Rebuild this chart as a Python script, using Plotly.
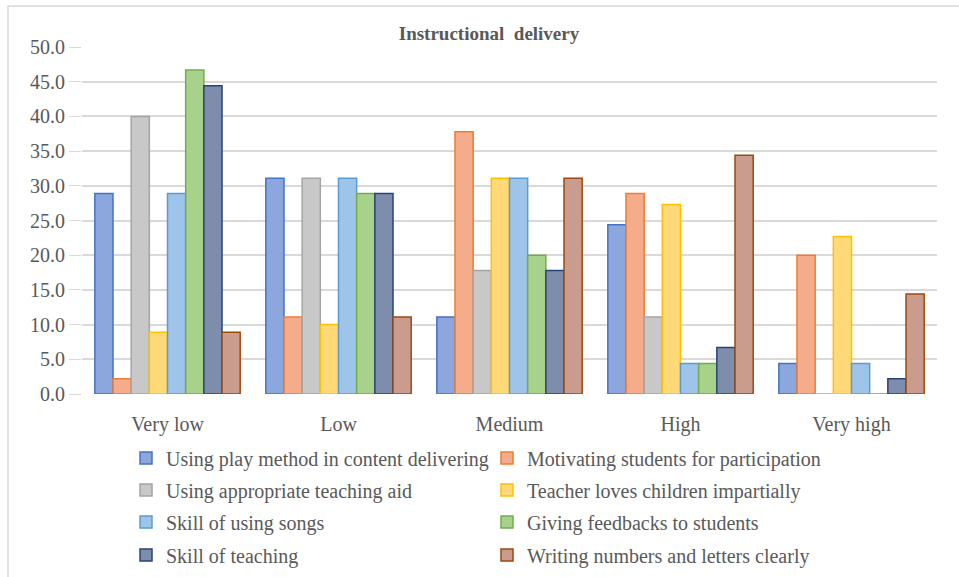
import plotly.graph_objects as go

categories = ["Very low", "Low", "Medium", "High", "Very high"]

series_names = [
    "Using play method in content delivering",
    "Motivating students for participation",
    "Using appropriate teaching aid",
    "Teacher loves children impartially",
    "Skill of using songs",
    "Giving feedbacks to students",
    "Skill of teaching",
    "Writing numbers and letters clearly",
]

play_method = [28.9, 31.1, 11.1, 24.4, 4.4]
motivating = [2.2, 11.1, 37.8, 28.9, 20.0]
teaching_aid = [40.0, 31.1, 17.8, 11.1, 0.0]
loves_children = [8.9, 10.0, 31.1, 27.3, 22.7]
using_songs = [28.9, 31.1, 31.1, 4.4, 4.4]
feedbacks = [46.7, 28.9, 20.0, 4.4, 0.0]
skill_teaching = [44.4, 28.9, 17.8, 6.7, 2.2]
writing = [8.9, 11.1, 31.1, 34.4, 14.4]

series_values = [play_method, motivating, teaching_aid, loves_children,
                 using_songs, feedbacks, skill_teaching, writing]

fill_colors = ["#8CA7DD", "#F5AC8A", "#C8C8C8", "#FFD978",
               "#9EC4EA", "#A8D18C", "#7F8DAD", "#C99C8D"]
edge_colors = ["#4472C4", "#ED7D31", "#A5A5A5", "#FFC000",
               "#5B9BD5", "#70AD47", "#264478", "#9E480E"]

FONT = "Liberation Serif"
GRAY = "#595959"

fig = go.Figure()
legend_ids = ["legend", "legend", "legend2", "legend2",
              "legend3", "legend3", "legend4", "legend4"]
for name, vals, fc, ec, lg in zip(series_names, series_values, fill_colors, edge_colors, legend_ids):
    fig.add_trace(go.Bar(
        x=categories, y=vals, name=name,
        marker=dict(color=fc, line=dict(color=ec, width=1.5)),
        legend=lg,
    ))

plot_top, plot_bottom, plot_left, plot_w = 47, 394, 82, 855
plot_h = plot_bottom - plot_top

def py(pix):
    return (plot_bottom - pix) / plot_h

def px(pix):
    return (pix - plot_left) / plot_w

legend_common = dict(orientation="h", xanchor="left", yanchor="middle",
                     x=px(126), entrywidth=316, itemwidth=30,
                     font=dict(family=FONT, size=20, color=GRAY),
                     bgcolor="rgba(0,0,0,0)")
row_ys = [458, 490, 522, 555]

fig.update_layout(
    width=959, height=577,
    margin=dict(l=plot_left, r=959 - plot_left - plot_w, t=plot_top,
                b=577 - plot_bottom, autoexpand=False),
    paper_bgcolor="white", plot_bgcolor="white",
    barmode="group", bargap=0.15, bargroupgap=0.0,
    title=dict(text="<b>Instructional  delivery</b>", x=px(489), xref="paper",
               xanchor="center", y=1 - 33 / 577, yanchor="middle",
               font=dict(family=FONT, size=19, color=GRAY)),
    legend=dict(**legend_common, y=py(row_ys[0])),
    legend2=dict(**legend_common, y=py(row_ys[1])),
    legend3=dict(**legend_common, y=py(row_ys[2])),
    legend4=dict(**legend_common, y=py(row_ys[3])),
    xaxis=dict(showgrid=False, showline=False, ticks="", ticklabelstandoff=16,
               tickfont=dict(family=FONT, size=20, color=GRAY)),
    yaxis=dict(range=[0, 50], dtick=5, tickformat=".1f", showgrid=True,
               gridcolor="#D9D9D9", gridwidth=1.5, zeroline=False, showline=False,
               ticks="outside", ticklen=12, tickcolor="#D9D9D9",
               tickfont=dict(family=FONT, size=20, color=GRAY)),
    shapes=[dict(type="rect", xref="paper", yref="paper",
                 x0=px(8), x1=px(975), y0=py(600), y1=py(6),
                 line=dict(color="#D9D9D9", width=1.5), fillcolor="rgba(0,0,0,0)",
                 layer="below")],
)

fig.write_html("out.html")
